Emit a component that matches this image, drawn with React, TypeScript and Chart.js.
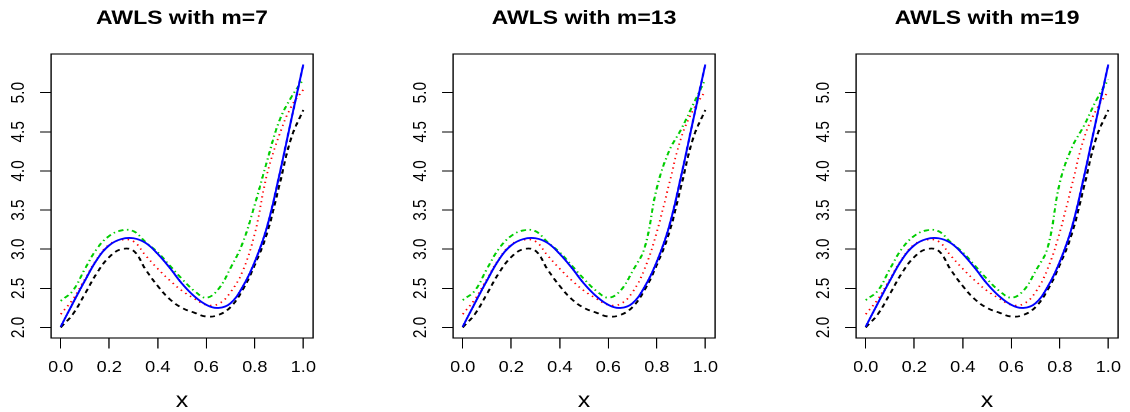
import React, { useEffect, useRef } from "react";
import { Chart, registerables } from "chart.js";

Chart.register(...registerables);

const FONT = '"Liberation Sans", Arial, Helvetica, sans-serif';
const STRETCH = 1.18;

const xValues = [0, 0.05, 0.1, 0.15, 0.2, 0.25, 0.3, 0.35, 0.4, 0.45, 0.5, 0.55, 0.6, 0.65, 0.7, 0.75, 0.8, 0.85, 0.9, 0.95, 1.0];
const xTicks = [0, 0.2, 0.4, 0.6, 0.8, 1.0];
const yTicks = [2.0, 2.5, 3.0, 3.5, 4.0, 4.5, 5.0];
const titles = ["AWLS with m=7", "AWLS with m=13", "AWLS with m=19"];

// true curve (solid blue), same in every panel
const trueCurve = [2.01, 2.31, 2.6, 2.87, 3.05, 3.13, 3.14, 3.08, 2.94, 2.76, 2.56, 2.4, 2.29, 2.25, 2.31, 2.52, 2.84, 3.28, 3.93, 4.65, 5.36];

// m = 7
const m7Dashed = [2.0, 2.17, 2.43, 2.7, 2.9, 3.0, 2.98, 2.74, 2.53, 2.36, 2.25, 2.19, 2.14, 2.16, 2.26, 2.48, 2.8, 3.2, 3.8, 4.42, 4.78];
const m7Dotted = [2.17, 2.36, 2.62, 2.88, 3.06, 3.12, 3.1, 2.92, 2.75, 2.6, 2.47, 2.37, 2.29, 2.3, 2.45, 2.72, 3.2, 3.95, 4.45, 4.82, 5.04];
const m7DotDash = [2.34, 2.47, 2.75, 3.01, 3.17, 3.24, 3.23, 3.09, 2.96, 2.79, 2.62, 2.47, 2.38, 2.49, 2.76, 3.08, 3.57, 4.12, 4.63, 4.94, 5.17];

// m = 13
const m13Dashed = [2.0, 2.17, 2.43, 2.7, 2.9, 3.0, 2.98, 2.74, 2.53, 2.36, 2.25, 2.19, 2.14, 2.16, 2.26, 2.48, 2.8, 3.2, 3.8, 4.42, 4.78];
const m13Dotted = [2.17, 2.36, 2.62, 2.88, 3.06, 3.12, 3.1, 2.92, 2.75, 2.6, 2.47, 2.37, 2.29, 2.3, 2.45, 2.75, 3.22, 3.82, 4.42, 4.78, 5.02];
const m13DotDash = [2.35, 2.47, 2.75, 3.01, 3.17, 3.24, 3.23, 3.09, 2.96, 2.79, 2.62, 2.47, 2.38, 2.47, 2.72, 3.02, 3.78, 4.25, 4.53, 4.85, 5.17];

// m = 19
const m19Dashed = [2.0, 2.17, 2.43, 2.7, 2.9, 3.0, 2.98, 2.74, 2.53, 2.36, 2.25, 2.19, 2.14, 2.16, 2.26, 2.48, 2.8, 3.2, 3.8, 4.42, 4.78];
const m19Dotted = [2.17, 2.36, 2.62, 2.88, 3.06, 3.12, 3.1, 2.92, 2.75, 2.6, 2.47, 2.37, 2.29, 2.3, 2.45, 2.75, 3.22, 3.82, 4.42, 4.78, 5.02];
const m19DotDash = [2.35, 2.47, 2.75, 3.01, 3.17, 3.24, 3.23, 3.09, 2.96, 2.79, 2.62, 2.47, 2.38, 2.47, 2.72, 3.02, 3.85, 4.3, 4.58, 4.9, 5.17];

const panelSeries = [
  [m7Dashed, m7Dotted, m7DotDash],
  [m13Dashed, m13Dotted, m13DotDash],
  [m19Dashed, m19Dotted, m19DotDash],
];

const panelLefts = [0.7, 403.3, 806];

const CANVAS_W = 276;
const CANVAS_H = 412;
const AXIS_W = 50 / STRETCH;
const BOX_W = 262 / STRETCH;

const rPlot = {
  id: "rplot",
  afterDraw(chart: any, _args: any, opts: any) {
    const { ctx, chartArea: a, scales } = chart;
    ctx.save();
    ctx.strokeStyle = "#000";
    ctx.lineWidth = 1.1;
    ctx.strokeRect(a.left, a.top, a.right - a.left, a.bottom - a.top);
    ctx.fillStyle = "#000";
    ctx.textAlign = "center";
    ctx.textBaseline = "alphabetic";
    const cx = (a.left + a.right) / 2;
    ctx.font = `bold 19.5px ${FONT}`;
    ctx.fillText(opts.title, cx, 24);
    ctx.font = `21px ${FONT}`;
    ctx.fillText("x", cx, 407);
    ctx.font = `15.4px ${FONT}`;
    for (const v of xTicks) {
      ctx.fillText(v.toFixed(1), scales.x.getPixelForValue(v), 372);
    }
    for (const v of yTicks) {
      const y = scales.y.getPixelForValue(v);
      ctx.save();
      ctx.translate(a.left - 26.7 / STRETCH, y);
      ctx.rotate(-Math.PI / 2);
      ctx.fillText(v.toFixed(1), 0, 0);
      ctx.restore();
    }
    ctx.restore();
  },
};

function Panel({ index }: { index: number }) {
  const ref = useRef<HTMLCanvasElement | null>(null);
  useEffect(() => {
    if (!ref.current) return;
    const [dashed, dotted, dotdash] = panelSeries[index];
    const all = [...trueCurve, ...dashed, ...dotted, ...dotdash];
    const lo = Math.min(...all);
    const hi = Math.max(...all);
    const yPad = (hi - lo) * 0.04;
    const xLo = Math.min(...xValues);
    const xHi = Math.max(...xValues);
    const xPad = (xHi - xLo) * 0.04;
    const pts = (arr: number[]) => xValues.map((x, i) => ({ x, y: arr[i] }));
    const common = { pointRadius: 0, fill: false, tension: 0.4, borderCapStyle: "butt" as const };
    const chart = new Chart(ref.current, {
      type: "line",
      data: {
        datasets: [
          { ...common, data: pts(trueCurve), borderColor: "#0000ff", borderWidth: 1.8 },
          { ...common, data: pts(dotdash), borderColor: "#00cd00", borderWidth: 1.8, borderDash: [1.3, 3, 4.5, 3] },
          { ...common, data: pts(dotted), borderColor: "#ff0000", borderWidth: 1.6, borderDash: [1.3, 3.6] },
          { ...common, data: pts(dashed), borderColor: "#000000", borderWidth: 1.8, borderDash: [4.5, 3.6] },
        ],
      },
      options: {
        animation: false,
        responsive: false,
        devicePixelRatio: 2,
        events: [],
        layout: { padding: { top: 54, left: 0, right: CANVAS_W - AXIS_W - BOX_W, bottom: 0 } },
        plugins: {
          legend: { display: false },
          tooltip: { enabled: false },
          title: { display: false },
          rplot: { title: titles[index] },
        } as any,
        scales: {
          x: {
            type: "linear",
            min: xLo - xPad,
            max: xHi + xPad,
            afterBuildTicks: (s: any) => {
              s.ticks = xTicks.map((v) => ({ value: v }));
            },
            afterFit: (s: any) => {
              s.height = CANVAS_H - 338;
            },
            ticks: { display: false },
            grid: { display: true, drawOnChartArea: false, drawTicks: true, tickLength: 10.5, color: "#000", lineWidth: 1 },
            border: { display: false },
          },
          y: {
            type: "linear",
            min: lo - yPad,
            max: hi + yPad,
            afterBuildTicks: (s: any) => {
              s.ticks = yTicks.map((v) => ({ value: v }));
            },
            afterFit: (s: any) => {
              s.width = AXIS_W;
            },
            ticks: { display: false },
            grid: { display: true, drawOnChartArea: false, drawTicks: true, tickLength: 11 / STRETCH, color: "#000", lineWidth: 1 },
            border: { display: false },
          },
        },
      },
      plugins: [rPlot],
    });
    return () => chart.destroy();
  }, [index]);
  return (
    <canvas
      ref={ref}
      width={CANVAS_W}
      height={CANVAS_H}
      style={{
        position: "absolute",
        left: panelLefts[index],
        top: 0,
        width: CANVAS_W,
        height: CANVAS_H,
        transform: `scaleX(${STRETCH})`,
        transformOrigin: "0 0",
      }}
    />
  );
}

export default function App() {
  return (
    <div
      style={{
        position: "absolute",
        left: 0,
        top: 0,
        width: 1130,
        height: 412,
        overflow: "hidden",
        background: "#ffffff",
      }}
    >
      {[0, 1, 2].map((i) => (
        <Panel key={i} index={i} />
      ))}
    </div>
  );
}
